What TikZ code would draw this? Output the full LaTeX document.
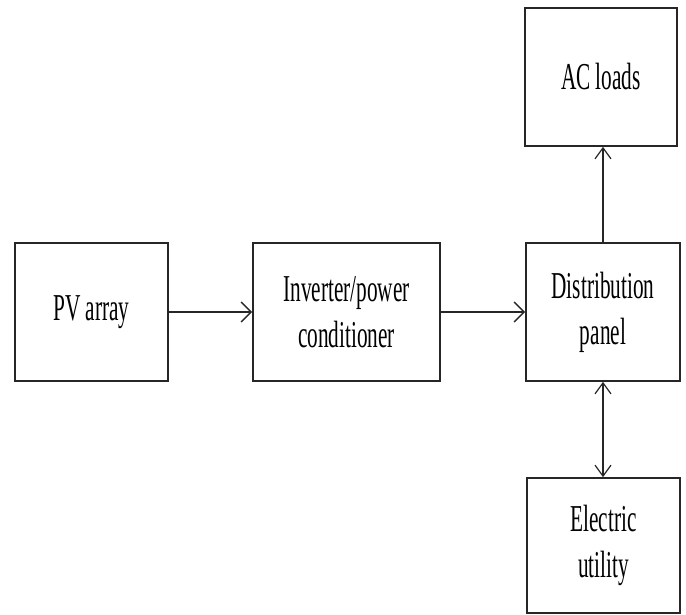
\documentclass[tikz,border=0pt]{standalone}
\usepackage{fontspec}
\setmainfont{Liberation Serif}[FakeStretch=0.56]
\usetikzlibrary{arrows.meta}
\tikzset{
  blockbox/.style={draw=black!85, line width=1.7pt, inner sep=0pt, align=center,
    font=\fontsize{38}{46}\selectfont},
  flowline/.style={draw=black!85, line width=1.8pt, -{Straight Barb[length=10pt,width=20pt,line width=1.4pt]}},
  vline/.style={draw=black!85, line width=1.1pt, -{Straight Barb[length=11pt,width=16pt,line width=1.2pt]}},
  vboth/.style={draw=black!85, line width=1.1pt, {Straight Barb[length=11pt,width=16pt,line width=1.2pt]}-{Straight Barb[length=11pt,width=16pt,line width=1.2pt]}}
}
\begin{document}
\begin{tikzpicture}[x=1pt,y=-1pt]
\useasboundingbox (0,0) rectangle (686,615);
\node[blockbox, minimum width=153pt, minimum height=138pt] (pv) at (91.5,312) {PV array};
\node[blockbox, minimum width=187pt, minimum height=138pt] (inv) at (346.5,312) {Inverter/power\\conditioner};
\node[blockbox, minimum width=154pt, minimum height=138pt] (dist) at (603,312) {Distribution\\panel};
\node[blockbox, minimum width=152pt, minimum height=138pt] (ac) at (601,77) {AC loads};
\node[blockbox, minimum width=153pt, minimum height=135pt] (elec) at (603.5,545.5) {Electric\\utility};
\draw[flowline] (pv.east) -- (inv.west);
\draw[flowline] (inv.east) -- (dist.west);
\draw[vline] (dist.north) -- (dist.north |- ac.south);
\draw[vboth] (dist.south) -- (dist.south |- elec.north);
\end{tikzpicture}
\end{document}
